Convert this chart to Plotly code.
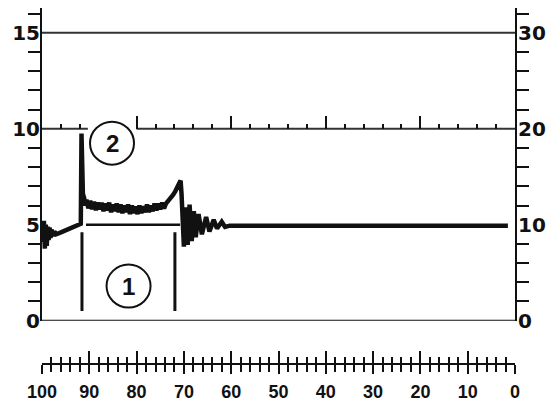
import plotly.graph_objects as go

# ---------------- data ----------------
sig_x = [100.0, 99.8, 99.6, 99.4, 99.2, 99.0, 98.8, 98.6, 98.4, 98.2, 98.0, 97.7, 97.4, 97.0,
         96.0, 95.0, 94.0, 93.0, 92.2, 91.8, 91.65, 91.5, 91.35, 91.1, 90.85,
         90.6, 90.2, 89.8, 89.4, 89.0, 88.6, 88.2, 87.8, 87.4, 87.0, 86.6, 86.2, 85.8, 85.4,
         85.0, 84.6, 84.2, 83.8, 83.4, 83.0, 82.6, 82.2, 81.8, 81.4, 81.0, 80.6, 80.2, 79.8,
         79.4, 79.0, 78.6, 78.2, 77.8, 77.4, 77.0, 76.6, 76.2, 75.8, 75.4, 75.0, 74.6, 74.2,
         73.8, 73.3, 72.8, 72.3, 71.8, 71.3, 70.9, 70.7, 70.5, 70.2, 70.0,
         69.6, 69.2, 68.8, 68.35, 67.9, 67.5, 66.9, 66.2, 65.3, 64.6, 63.7, 63.0, 62.0, 61.3,
         60.3, 1.5]
sig_y = [5.0, 4.1, 5.2, 3.75, 5.0, 3.9, 4.9, 4.2, 4.85, 4.3, 4.75, 4.4, 4.65, 4.5,
         4.6, 4.7, 4.8, 4.9, 4.98, 5.05, 9.75, 7.2, 6.6, 6.4, 6.0,
         6.3, 5.85, 6.25, 5.8, 6.2, 5.75, 6.15, 5.8, 6.15, 5.7, 6.1, 5.75, 6.15, 5.65,
         6.05, 5.7, 6.1, 5.65, 6.05, 5.6, 6.0, 5.65, 6.05, 5.55, 6.0, 5.6, 5.95, 5.55,
         6.0, 5.6, 5.95, 5.65, 6.05, 5.65, 6.0, 5.7, 6.1, 5.75, 6.1, 5.8, 6.15, 5.85,
         6.1, 6.25, 6.35, 6.55, 6.75, 7.0, 7.2, 7.3, 6.6, 5.0, 3.85,
         5.9, 3.95, 6.05, 4.15, 5.7, 4.35, 5.55, 4.5, 5.4, 4.65, 5.25, 4.8, 5.15, 4.88,
         4.95, 4.95]

bracket_left_x = [91.55, 91.55]
bracket_right_x = [71.9, 71.9]
bracket_v_y = [0.5, 4.6]
bracket_h_x = [90.7, 70.8]
bracket_h_y = [5.0, 5.0]

marker_x = [81.7, 85.2]
marker_y = [1.8, 9.25]
marker_text = ["1", "2"]

left_ticks = [0, 5, 10, 15]
left_minor = [1, 2, 3, 4, 6, 7, 8, 9, 11, 12, 13, 14, 16]
right_ticks = [0, 10, 20, 30]
right_minor = [2, 4, 6, 8, 12, 14, 16, 18, 22, 24, 26, 28, 32]
bottom_ticks = [100, 90, 80, 70, 60, 50, 40, 30, 20, 10, 0]
scale_major = [80, 60, 40, 20]
scale_minor = [96, 92, 76, 72, 68, 64, 56, 52, 48, 44, 36, 32, 28, 24, 16, 12, 8, 4]
scale_line_a = [100, 90.3]
scale_line_b = [80, 0]
scale_level = 10

# ---------------- layout geometry ----------------
# page body has an 8px margin; the page is photographed at its full height
OFF = 8
W, H = 541, 394
SY = (H + 2 * OFF) / 402.0


def fig_y(screen_y):
    return screen_y * SY - OFF


L, R, T = 34, 34, 0
zero_fig = fig_y(325)
top15_fig = fig_y(33)
axis_fig = fig_y(369)
B = H - axis_fig
plot_h = H - T - B
px_per_unit = (zero_fig - top15_fig) / 15
ydom0 = (axis_fig - zero_fig) / plot_h
ymax = (zero_fig - T) / px_per_unit
pos10 = ydom0 + (scale_level / ymax) * (1 - ydom0)

INK = "#111111"
side_font = dict(family="DejaVu Sans, Liberation Sans, Arial", size=20, color=INK, weight="bold")
bottom_font = dict(family="Liberation Sans, Arial", size=18, color=INK, weight="bold")

fig = go.Figure()
fig.add_trace(go.Scatter(x=sig_x, y=sig_y, mode="lines", line=dict(color=INK, width=4.5),
                         hoverinfo="skip", showlegend=False))
for bx in (bracket_left_x, bracket_right_x):
    fig.add_trace(go.Scatter(x=bx, y=bracket_v_y, mode="lines", line=dict(color=INK, width=3),
                             hoverinfo="skip", showlegend=False))
fig.add_trace(go.Scatter(x=bracket_h_x, y=bracket_h_y, mode="lines", line=dict(color=INK, width=2.5),
                         hoverinfo="skip", showlegend=False))
for sx in (scale_line_a, scale_line_b):
    fig.add_trace(go.Scatter(x=sx, y=[scale_level, scale_level], mode="lines",
                             line=dict(color="#333333", width=2),
                             hoverinfo="skip", showlegend=False))
# dummy traces so overlay axes get drawn
fig.add_trace(go.Scatter(x=[], y=[], xaxis="x2", yaxis="y", showlegend=False))
fig.add_trace(go.Scatter(x=[], y=[], xaxis="x3", yaxis="y", showlegend=False))
fig.add_trace(go.Scatter(x=[], y=[], xaxis="x", yaxis="y2", showlegend=False))

shapes = [
    dict(type="line", xref="paper", x0=0, x1=1, yref="y", y0=15, y1=15,
         line=dict(color="#333333", width=2)),
    dict(type="line", xref="paper", x0=0, x1=1, yref="y", y0=0, y1=0,
         line=dict(color=INK, width=2)),
]
annotations = []
for mx, my, mt in zip(marker_x, marker_y, marker_text):
    shapes.append(dict(type="circle", xref="x", yref="y", xsizemode="pixel", ysizemode="pixel",
                       xanchor=mx, yanchor=my, x0=-22, x1=22, y0=-21.5, y1=21.5,
                       line=dict(color=INK, width=2), fillcolor="white", layer="above"))
    annotations.append(dict(x=mx, y=my, xref="x", yref="y", text=mt, showarrow=False,
                            font=dict(family="Liberation Sans, Arial", size=24, color=INK,
                                      weight="bold")))

axis_common = dict(showgrid=False, zeroline=False, fixedrange=True)

fig.update_layout(
    width=W, height=H,
    margin=dict(l=L, r=R, t=T, b=B, pad=0),
    paper_bgcolor="white", plot_bgcolor="white",
    showlegend=False,
    shapes=shapes, annotations=annotations,
    xaxis=dict(range=[100, 0], domain=[0, 1], anchor="free", position=0,
               showline=True, linecolor=INK, linewidth=2,
               tickmode="array", tickvals=bottom_ticks, ticks="outside", ticklen=9, tickwidth=2,
               tickcolor=INK,
               minor=dict(tickmode="linear", tick0=0, dtick=2, ticks="outside", ticklen=7,
                          tickwidth=1.5, tickcolor=INK),
               tickfont=bottom_font, ticklabelstandoff=2, **axis_common),
    xaxis2=dict(range=[100, 0], overlaying="x", matches="x", anchor="free", position=0,
                showline=False, tickmode="array", tickvals=bottom_ticks, ticks="inside",
                ticklen=13, tickwidth=2, tickcolor=INK, showticklabels=False,
                minor=dict(tickmode="linear", tick0=0, dtick=2, ticks="inside", ticklen=7,
                           tickwidth=1.5, tickcolor=INK),
                **axis_common),
    xaxis3=dict(range=[100, 0], overlaying="x", matches="x", anchor="free", position=pos10,
                showline=False,
                tickmode="array", tickvals=scale_major, ticks="inside", ticklen=13,
                tickwidth=2, tickcolor=INK, showticklabels=False,
                minor=dict(tickmode="array", tickvals=scale_minor, ticks="inside", ticklen=5,
                           tickwidth=1.5, tickcolor=INK),
                **axis_common),
    yaxis=dict(range=[0, ymax], domain=[ydom0, 1], anchor="x",
               showline=True, linecolor=INK, linewidth=2,
               tickmode="array", tickvals=left_ticks, ticks="outside", ticklen=0,
               minor=dict(tickmode="array", tickvals=left_minor, ticks="outside", ticklen=12,
                          tickwidth=2, tickcolor=INK),
               tickfont=side_font, ticklabelstandoff=-4, **axis_common),
    yaxis2=dict(range=[0, 2 * ymax], overlaying="y", side="right", anchor="x",
                showline=True, linecolor=INK, linewidth=2,
                tickmode="array", tickvals=right_ticks, ticks="outside", ticklen=0,
                minor=dict(tickmode="array", tickvals=right_minor, ticks="outside", ticklen=12,
                           tickwidth=2, tickcolor=INK),
                tickfont=side_font, ticklabelstandoff=-3, **axis_common),
)

fig.write_html("out.html")
